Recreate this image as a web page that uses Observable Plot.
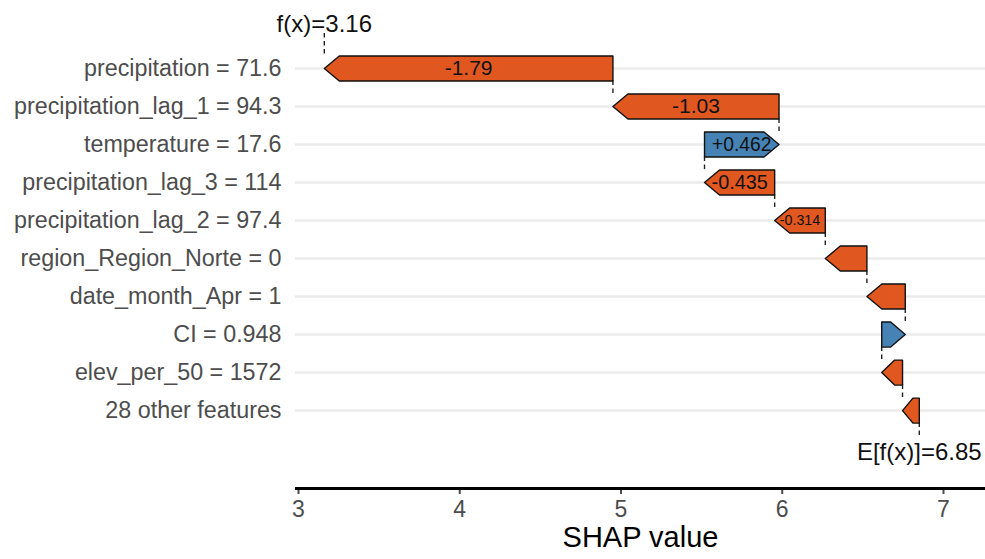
<!DOCTYPE html>
<html>
<head>
<meta charset="utf-8">
<script src="https://cdn.jsdelivr.net/npm/d3@7"></script>
<script src="https://cdn.jsdelivr.net/npm/@observablehq/plot@0.6"></script>
<style>
  html, body { margin: 0; padding: 0; background: #ffffff; }
  #chart { width: 985px; height: 559px; }
</style>
</head>
<body>
<div id="chart"></div>
<script>
// ---- data (top to bottom) ----
const features = [
  "precipitation = 71.6",
  "precipitation_lag_1 = 94.3",
  "temperature = 17.6",
  "precipitation_lag_3 = 114",
  "precipitation_lag_2 = 97.4",
  "region_Region_Norte = 0",
  "date_month_Apr = 1",
  "CI = 0.948",
  "elev_per_50 = 1572",
  "28 other features"
];
const shapValues = [-1.79, -1.03, 0.462, -0.435, -0.314, -0.258, -0.238, 0.146, -0.129, -0.104];
const barLabels = ["-1.79", "-1.03", "+0.462", "-0.435", "-0.314", "", "", "", "", ""];
const baseValue = 6.85;
const prediction = 3.16;
const baseLabel = "E[f(x)]=6.85";
const predLabel = "f(x)=3.16";
const xTicks = [3, 4, 5, 6, 7];
const xTitle = "SHAP value";

// ---- layout / style ----
const W = 985, H = 559;
const mLeft = 295, mBottom = 71;
const xDomain = [2.9814, 7.2605];
const yDomain = [-0.79, 12.05];
const half = 0.329;          // half bar height in row units
const pxPerUnit = (W - mLeft) / (xDomain[1] - xDomain[0]);
const tipLen = 15 / pxPerUnit;
const negColor = "#E0581F";
const posColor = "#4682B4";
const font = "Liberation Sans, Arial, sans-serif";

// cumulative positions
const n = features.length;
const bars = [];
let acc = baseValue;
for (let i = n - 1; i >= 0; i--) {
  const start = acc;
  const end = acc + shapValues[i];
  bars[i] = {i, row: i + 1, feature: features[i], value: shapValues[i], start, end,
             label: barLabels[i], color: shapValues[i] < 0 ? negColor : posColor};
  acc = end;
}

// arrow polygons
const polyPts = [];
for (const b of bars) {
  const dir = Math.sign(b.value);
  const t = Math.min(tipLen, Math.abs(b.value) * 0.62);
  const pts = [
    [b.start, b.row - half],
    [b.end - dir * t, b.row - half],
    [b.end, b.row],
    [b.end - dir * t, b.row + half],
    [b.start, b.row + half]
  ];
  for (const [x, y] of pts) polyPts.push({x, y, f: b.feature, c: b.color});
}

// connectors
const conns = [];
for (let i = 0; i < n - 1; i++) {
  conns.push({x: bars[i].start, y1: bars[i].row + half, y2: bars[i + 1].row - half});
}
conns.push({x: prediction, y1: 0.08, y2: bars[0].row - half});
conns.push({x: baseValue, y1: bars[n - 1].row + half, y2: 10.74});

// label font size to fit in bar
const ctx = document.createElement("canvas").getContext("2d");
ctx.font = "10px " + font;
const labeled = bars.filter(b => b.label).map(b => {
  const wPer = ctx.measureText(b.label).width / 10;
  const barPx = Math.abs(b.value) * pxPerUnit;
  return {...b, mid: (b.start + b.end) / 2, size: Math.min(21, 0.8 * barPx / wPer)};
});

const rows = bars.map(b => b.row);

const plot = Plot.plot({
  width: W,
  height: H,
  marginLeft: mLeft,
  marginRight: 0,
  marginTop: 0,
  marginBottom: mBottom,
  style: {fontFamily: font, background: "#ffffff"},
  x: {domain: xDomain},
  y: {domain: yDomain, reverse: true},
  color: {type: "identity"},
  marks: [
    Plot.ruleY(rows, {stroke: "#EBEBEB", strokeWidth: 2.5}),
    Plot.ruleX(conns, {x: "x", y1: "y1", y2: "y2", stroke: "#222", strokeWidth: 1.4, strokeDasharray: "4.5,3.5"}),
    Plot.line(polyPts, {x: "x", y: "y", z: "f", fill: "c", stroke: "#111", strokeWidth: 1.4, curve: "linear-closed"}),
    ...labeled.map(b => Plot.text([b], {x: "mid", y: "row", text: "label", fontSize: b.size, fill: "#111", textAnchor: "middle"})),
    Plot.text([{x: prediction, y: -0.16, t: predLabel}], {x: "x", y: "y", text: "t", fontSize: 24, fill: "#111"}),
    Plot.text([{x: baseValue, y: 11.1, t: baseLabel}], {x: "x", y: "y", text: "t", fontSize: 24, fill: "#111"}),
    Plot.axisY({ticks: rows, tickFormat: r => features[r - 1], tickSize: 0, tickPadding: 14, fontSize: 23.3, color: "#4D4D4D", label: null}),
    Plot.axisX({ticks: xTicks, tickFormat: d3.format("d"), tickSize: 6, tickPadding: 6, fontSize: 23, color: "#4D4D4D", strokeWidth: 2, label: null}),
    Plot.ruleY([yDomain[1]], {stroke: "#000", strokeWidth: 3}),
    Plot.text([xTitle], {frameAnchor: "bottom", dy: 58, fontSize: 29, fill: "#000"})
  ]
});
document.getElementById("chart").appendChild(plot);
</script>
</body>
</html>
